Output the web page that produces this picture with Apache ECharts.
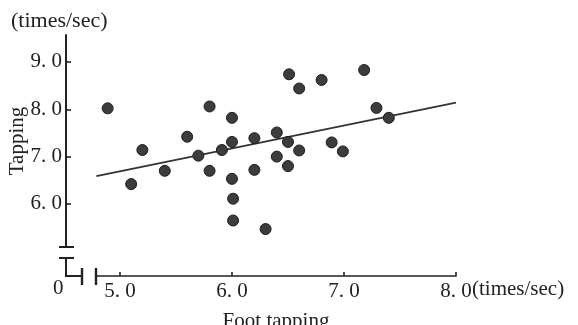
<!DOCTYPE html>
<html>
<head>
<meta charset="utf-8">
<script src="https://cdn.jsdelivr.net/npm/echarts@6/dist/echarts.min.js"></script>
<style>
  html, body { margin: 0; padding: 0; background: #fff; }
  #chart { width: 578px; height: 325px; }
</style>
</head>
<body>
<div id="chart"></div>
<script>
// foot tapping (x) vs tapping (y), times/sec
var footTapping = [4.89, 5.10, 5.20, 5.40, 5.60, 5.70, 5.80, 5.80, 5.91, 6.00,
                   6.00, 6.00, 6.01, 6.01, 6.20, 6.20, 6.30, 6.40, 6.40, 6.50,
                   6.50, 6.51, 6.60, 6.60, 6.80, 6.89, 6.99, 7.18, 7.29, 7.40];
var tapping = [8.02, 6.42, 7.14, 6.70, 7.42, 7.02, 8.06, 6.70, 7.14, 7.82,
               7.31, 6.53, 6.11, 5.65, 7.39, 6.72, 5.47, 7.51, 7.00, 7.31,
               6.80, 8.74, 8.44, 7.13, 8.62, 7.30, 7.11, 8.83, 8.03, 7.82];
// regression line end points
var lineX = [4.79, 8.0];
var lineY = [6.59, 8.14];
var xTicks = [5, 6, 7, 8];
var yTicks = [6, 7, 8, 9];

var font = '"Liberation Serif", "DejaVu Serif", serif';
var ink = '#222';

var fmt = function (v) { return Number(v).toFixed(1).replace('.', '. '); };

var chart = echarts.init(document.getElementById('chart'));
chart.setOption({
    backgroundColor: '#fff',
    animation: false,
    grid: { left: 96, right: 122, top: 35, bottom: 78, outerBoundsMode: 'none', containLabel: false },
    xAxis: {
        type: 'value',
        min: 4.786,
        max: 8.0,
        offset: 29,
        splitLine: { show: false },
        axisLine: { show: true, lineStyle: { color: ink, width: 1.6 } },
        axisTick: { show: true, inside: true, length: 4, customValues: xTicks, lineStyle: { color: ink, width: 1.6 } },
        axisLabel: {
            customValues: xTicks, formatter: fmt, margin: 5,
            fontFamily: font, fontSize: 21, color: ink
        },
        name: 'Foot tapping',
        nameLocation: 'middle',
        nameGap: 35,
        nameMoveOverlap: false,
        nameTextStyle: { fontFamily: font, fontSize: 21, color: ink }
    },
    yAxis: {
        type: 'value',
        min: 5.09,
        max: 9.57,
        offset: 30,
        splitLine: { show: false },
        axisLine: { show: true, lineStyle: { color: ink, width: 2 } },
        axisTick: { show: true, inside: true, length: 5, customValues: yTicks, lineStyle: { color: ink, width: 1.6 } },
        axisLabel: {
            customValues: yTicks, formatter: fmt, margin: 4,
            fontFamily: font, fontSize: 21, color: ink
        },
        name: 'Tapping',
        nameLocation: 'middle',
        nameGap: 38,
        nameMoveOverlap: false,
        nameTextStyle: { fontFamily: font, fontSize: 21, color: ink }
    },
    graphic: [
        { type: 'text', left: 11, top: 10, style: { text: '(times/sec)', font: '22px ' + font, fill: ink } },
        { type: 'text', left: 472, top: 279, style: { text: '(times/sec)', font: '21px ' + font, fill: ink } },
        { type: 'text', left: 53, top: 278, style: { text: '0', font: '21px ' + font, fill: ink } },
        // axis break marks
        { type: 'line', shape: { x1: 59, y1: 247, x2: 74, y2: 247 }, style: { stroke: ink, lineWidth: 2 } },
        { type: 'polyline', shape: { points: [[59, 258], [74, 258]] }, style: { stroke: ink, lineWidth: 2, fill: null } },
        { type: 'polyline', shape: { points: [[66, 258], [66, 276], [82, 276]] }, style: { stroke: ink, lineWidth: 2, fill: null } },
        { type: 'line', shape: { x1: 82, y1: 268, x2: 82, y2: 285 }, style: { stroke: ink, lineWidth: 2.4 } },
        { type: 'line', shape: { x1: 96, y1: 268, x2: 96, y2: 285 }, style: { stroke: ink, lineWidth: 2.4 } }
    ],
    series: [
        {
            type: 'line',
            data: lineX.map(function (x, i) { return [x, lineY[i]]; }),
            showSymbol: false,
            lineStyle: { color: '#333', width: 1.8 },
            z: 2
        },
        {
            type: 'scatter',
            data: footTapping.map(function (x, i) { return [x, tapping[i]]; }),
            symbolSize: 11,
            itemStyle: { color: '#3c3c3c', borderColor: '#1e1e1e', borderWidth: 1, opacity: 1 },
            z: 3
        }
    ]
});
</script>
</body>
</html>
